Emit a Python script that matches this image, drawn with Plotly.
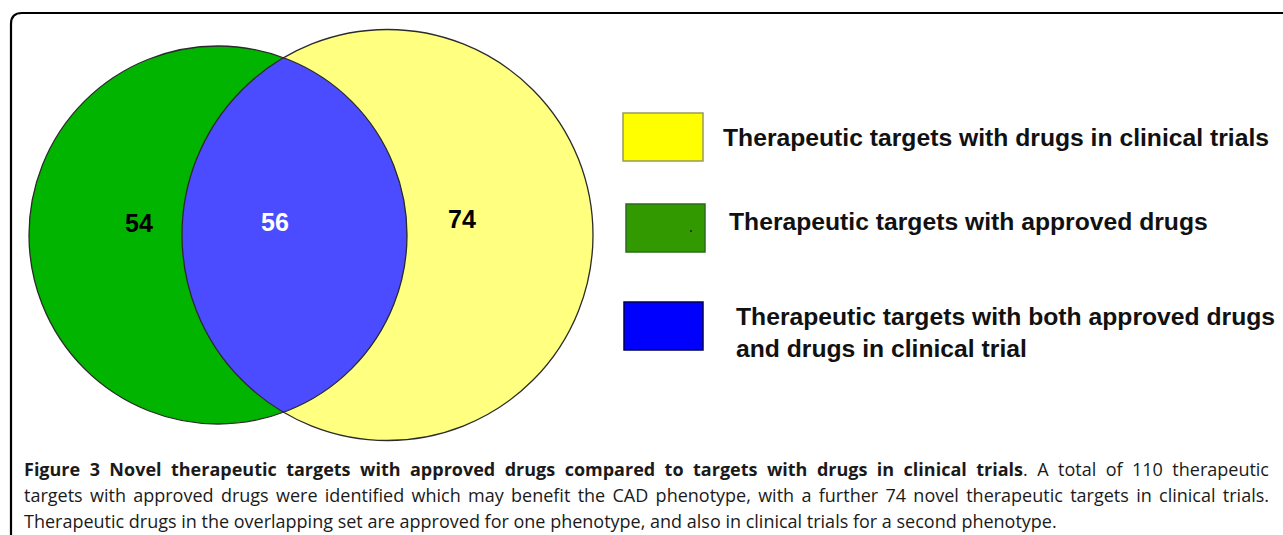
import numpy as np
import plotly.graph_objects as go

# ---------------- data ----------------
set_labels = [
    "Therapeutic targets with drugs in clinical trials",
    "Therapeutic targets with approved drugs",
    "Therapeutic targets with both approved drugs<br>and drugs in clinical trial",
]
region_names = ["approved only", "both", "clinical trials only"]
region_counts = [54, 56, 74]
caption_lines = [
    "<b>Figure 3 Novel therapeutic targets with approved drugs compared to targets with drugs in clinical trials</b>. A total of 110 therapeutic",
    "targets with approved drugs were identified which may benefit the CAD phenotype, with a further 74 novel therapeutic targets in clinical trials.",
    "Therapeutic drugs in the overlapping set are approved for one phenotype, and also in clinical trials for a second phenotype.",
]

# ---------------- layout geometry (pixels) ----------------
W, H = 1283, 535
G = dict(cx=218, cy=235, r=189)       # approved drugs circle
Y = dict(cx=387.5, cy=235, r=205.5)   # clinical trials circle

green_fill = "#00B400"
yellow_fill = "#FFFF80"
blue_fill = "#4B4BFF"
outline = "#2b2b2b"

# lens (intersection) outline
d = Y["cx"] - G["cx"]
a = (G["r"] ** 2 - Y["r"] ** 2 + d ** 2) / (2 * d)
h = np.sqrt(G["r"] ** 2 - a ** 2)
tg = np.arctan2(h, a)
ty = np.arctan2(h, (G["cx"] + a) - Y["cx"])
t1 = np.linspace(-tg, tg, 120)
t2 = np.linspace(ty, 2 * np.pi - ty, 120)
lx = np.concatenate([G["cx"] + G["r"] * np.cos(t1), Y["cx"] + Y["r"] * np.cos(t2)])
ly = np.concatenate([G["cy"] + G["r"] * np.sin(t1), Y["cy"] + Y["r"] * np.sin(t2)])
lens_path = "M " + " L ".join(f"{x:.2f},{y:.2f}" for x, y in zip(lx, ly)) + " Z"

shapes = []
def circ(c, fill, line_color, width, layer):
    return dict(type="circle", xref="x", yref="y",
                x0=c["cx"] - c["r"], x1=c["cx"] + c["r"],
                y0=c["cy"] - c["r"], y1=c["cy"] + c["r"],
                fillcolor=fill, line=dict(color=line_color, width=width), layer=layer)

shapes.append(circ(G, green_fill, "rgba(0,0,0,0)", 0, "below"))
shapes.append(circ(Y, yellow_fill, "rgba(0,0,0,0)", 0, "below"))
shapes.append(dict(type="path", path=lens_path, xref="x", yref="y",
                   fillcolor=blue_fill, line=dict(width=0), layer="below"))
shapes.append(circ(Y, "rgba(0,0,0,0)", outline, 1.3, "above"))
shapes.append(circ(G, "rgba(0,0,0,0)", outline, 1.3, "above"))

# frame (rounded top-left corner)
shapes.append(dict(type="path", xref="x", yref="y",
                   path="M 11,540 L 11,24 Q 11,13 22,13 L 1290,13",
                   line=dict(color="black", width=2.2), layer="above"))

# legend boxes
legend_boxes = [
    dict(x0=623, x1=703, y0=113, y1=161, fill="#FFFF00", line="#9a9a5a"),
    dict(x0=626, x1=705, y0=204, y1=252, fill="#339900", line="#2d6b1e"),
    dict(x0=624, x1=703, y0=302, y1=350, fill="#0000FF", line="#000055"),
]
for b in legend_boxes:
    shapes.append(dict(type="rect", xref="x", yref="y", x0=b["x0"], x1=b["x1"],
                       y0=b["y0"], y1=b["y1"], fillcolor=b["fill"],
                       line=dict(color=b["line"], width=1.5), layer="above"))
# tiny speck in green legend box
shapes.append(dict(type="rect", xref="x", yref="y", x0=690, x1=692, y0=230, y1=232,
                   fillcolor="#1f3f10", line=dict(width=0), layer="above"))

annotations = []
count_pos = [(139, 223, "black"), (275, 222, "white"), (462, 219, "black")]
for (x, y, col), n in zip(count_pos, region_counts):
    annotations.append(dict(x=x, y=y, xref="x", yref="y", text=f"<b>{n}</b>",
                            showarrow=False, xanchor="center", yanchor="middle",
                            font=dict(family="Liberation Sans, Arial", size=25, color=col)))

legend_text_pos = [(721, 137), (727, 221), (734, 332)]
for (x, y), t in zip(legend_text_pos, set_labels):
    annotations.append(dict(x=x, y=y, xref="x", yref="y", text=f"<b>{t}</b>",
                            showarrow=False, xanchor="left", yanchor="middle", align="left",
                            font=dict(family="Liberation Sans, Arial", size=24.7, color="#111111")))

caption_y = [469, 495, 521]
for y, t in zip(caption_y, caption_lines):
    annotations.append(dict(x=22, y=y, xref="x", yref="y", text=t, showarrow=False,
                            xanchor="left", yanchor="middle", align="left",
                            font=dict(family="Open Sans", size=18, color="#1a1a1a")))

fig = go.Figure()
fig.add_trace(go.Scatter(x=[0, W], y=[0, H], mode="markers",
                         marker=dict(opacity=0), hoverinfo="skip", showlegend=False))
fig.update_layout(
    width=W, height=H, margin=dict(l=0, r=0, t=0, b=0),
    paper_bgcolor="white", plot_bgcolor="white",
    xaxis=dict(range=[0, W], visible=False, fixedrange=True),
    yaxis=dict(range=[H, 0], visible=False, fixedrange=True),
    shapes=shapes, annotations=annotations, showlegend=False,
)

# remove page margin and justify the first two caption lines (word spacing)
post_js = """
document.body.style.margin='0';
document.body.style.overflow='hidden';
(function(){
  var gd=document.getElementById('{plot_id}');
  function just(){
    gd.querySelectorAll('text.annotation-text').forEach(function(t){
      var s=t.textContent;
      if(s.indexOf('Figure 3')===0 || s.indexOf('targets with approved drugs were')===0){
        t.style.wordSpacing='0px';
        var L=t.getComputedTextLength();
        var n=(s.match(/ /g)||[]).length;
        var target=1245;
        if(n>0 && L<target){ t.style.wordSpacing=((target-L)/n)+'px'; }
      }
    });
  }
  just();
  if(gd.on){ gd.on('plotly_afterplot', just); }
})();
"""
fig.write_html("out.html", config={"displayModeBar": False}, post_script=post_js)
